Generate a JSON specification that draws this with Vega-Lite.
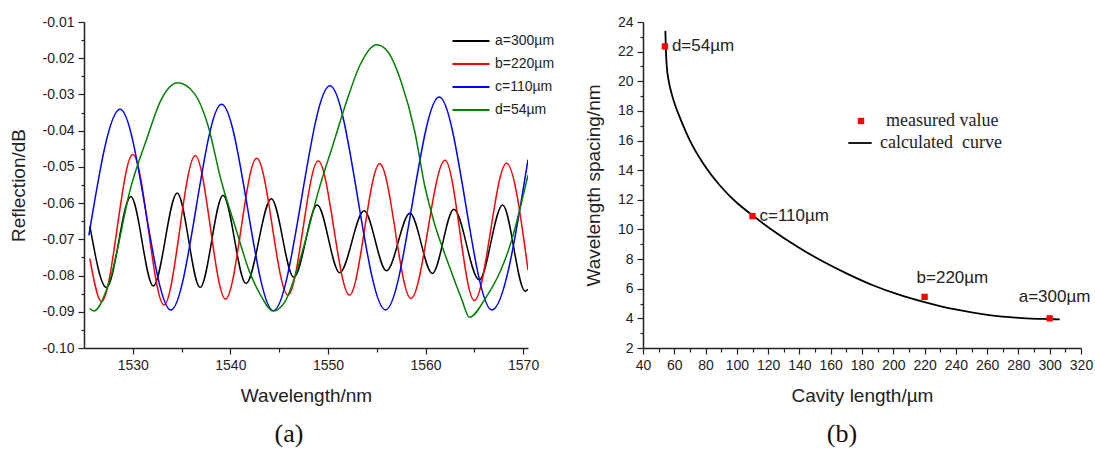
{
  "$schema": "https://vega.github.io/schema/vega-lite/v6.json",
  "background": "white",
  "padding": {"left": 9, "top": 15, "right": 5, "bottom": 5},
  "spacing": 115,
  "bounds": "flush",
  "resolve": {
    "scale": {"color": "independent", "shape": "independent"},
    "legend": {"color": "independent", "shape": "independent"}
  },
  "config": {
    "view": {"stroke": null},
    "font": "Liberation Sans",
    "axis": {
      "domainColor": "#222", "tickColor": "#222", "labelColor": "#222", "titleColor": "#222",
      "labelFont": "Liberation Sans", "titleFont": "Liberation Sans", "titleFontWeight": "normal",
      "labelFontSize": 14, "titleFontSize": 19, "grid": false, "domainWidth": 1.5, "tickWidth": 1.2,
      "labelPadding": 4
    },
    "axisX": {"titlePadding": 14},
    "axisY": {"titlePadding": 14}
  },
  "datasets": {
    "spectra": [
      {"s": "a=300µm", "wl": 1525.6, "r": -0.0663},
      {"s": "a=300µm", "wl": 1527.3, "r": -0.0833},
      {"s": "a=300µm", "wl": 1529.8, "r": -0.0582},
      {"s": "a=300µm", "wl": 1532.1, "r": -0.0829},
      {"s": "a=300µm", "wl": 1534.55, "r": -0.0572},
      {"s": "a=300µm", "wl": 1536.9, "r": -0.0833},
      {"s": "a=300µm", "wl": 1539.25, "r": -0.0578},
      {"s": "a=300µm", "wl": 1541.6, "r": -0.0822},
      {"s": "a=300µm", "wl": 1544.2, "r": -0.0588},
      {"s": "a=300µm", "wl": 1546.5, "r": -0.0805},
      {"s": "a=300µm", "wl": 1548.9, "r": -0.0605},
      {"s": "a=300µm", "wl": 1551.2, "r": -0.0792},
      {"s": "a=300µm", "wl": 1553.7, "r": -0.0621},
      {"s": "a=300µm", "wl": 1556.0, "r": -0.0787},
      {"s": "a=300µm", "wl": 1558.4, "r": -0.0628},
      {"s": "a=300µm", "wl": 1560.7, "r": -0.0794},
      {"s": "a=300µm", "wl": 1562.9, "r": -0.0617},
      {"s": "a=300µm", "wl": 1565.5, "r": -0.0812},
      {"s": "a=300µm", "wl": 1567.9, "r": -0.0605},
      {"s": "a=300µm", "wl": 1570.2, "r": -0.0843},
      {"s": "a=300µm", "wl": 1570.5, "r": -0.0838},
      {"s": "b=220µm", "wl": 1525.6, "r": -0.0753},
      {"s": "b=220µm", "wl": 1526.8, "r": -0.0872},
      {"s": "b=220µm", "wl": 1530.0, "r": -0.0466},
      {"s": "b=220µm", "wl": 1533.2, "r": -0.0881},
      {"s": "b=220µm", "wl": 1536.4, "r": -0.0469},
      {"s": "b=220µm", "wl": 1539.5, "r": -0.0865},
      {"s": "b=220µm", "wl": 1542.7, "r": -0.0476},
      {"s": "b=220µm", "wl": 1545.9, "r": -0.0854},
      {"s": "b=220µm", "wl": 1549.0, "r": -0.0484},
      {"s": "b=220µm", "wl": 1552.2, "r": -0.0854},
      {"s": "b=220µm", "wl": 1555.3, "r": -0.0491},
      {"s": "b=220µm", "wl": 1558.5, "r": -0.0863},
      {"s": "b=220µm", "wl": 1562.0, "r": -0.0482},
      {"s": "b=220µm", "wl": 1565.0, "r": -0.0869},
      {"s": "b=220µm", "wl": 1568.3, "r": -0.0490},
      {"s": "b=220µm", "wl": 1570.5, "r": -0.0785},
      {"s": "c=110µm", "wl": 1525.5, "r": -0.0689},
      {"s": "c=110µm", "wl": 1528.7, "r": -0.0341},
      {"s": "c=110µm", "wl": 1533.9, "r": -0.0895},
      {"s": "c=110µm", "wl": 1539.1, "r": -0.0327},
      {"s": "c=110µm", "wl": 1544.4, "r": -0.0897},
      {"s": "c=110µm", "wl": 1550.2, "r": -0.0276},
      {"s": "c=110µm", "wl": 1555.9, "r": -0.0895},
      {"s": "c=110µm", "wl": 1561.4, "r": -0.0307},
      {"s": "c=110µm", "wl": 1566.8, "r": -0.0895},
      {"s": "c=110µm", "wl": 1570.5, "r": -0.0480},
      {"s": "d=54µm", "wl": 1525.6, "r": -0.0891},
      {"s": "d=54µm", "wl": 1526.0, "r": -0.0898},
      {"s": "d=54µm", "wl": 1527.7, "r": -0.0808},
      {"s": "d=54µm", "wl": 1529.8, "r": -0.0556},
      {"s": "d=54µm", "wl": 1531.4, "r": -0.0425},
      {"s": "d=54µm", "wl": 1532.9, "r": -0.0315},
      {"s": "d=54µm", "wl": 1534.6, "r": -0.0268},
      {"s": "d=54µm", "wl": 1536.3, "r": -0.0297},
      {"s": "d=54µm", "wl": 1537.7, "r": -0.0385},
      {"s": "d=54µm", "wl": 1539.05, "r": -0.0537},
      {"s": "d=54µm", "wl": 1540.6, "r": -0.0674},
      {"s": "d=54µm", "wl": 1541.9, "r": -0.0785},
      {"s": "d=54µm", "wl": 1543.1, "r": -0.0854},
      {"s": "d=54µm", "wl": 1544.4, "r": -0.0898},
      {"s": "d=54µm", "wl": 1545.6, "r": -0.0872},
      {"s": "d=54µm", "wl": 1546.5, "r": -0.0812},
      {"s": "d=54µm", "wl": 1547.5, "r": -0.0722},
      {"s": "d=54µm", "wl": 1549.1, "r": -0.0560},
      {"s": "d=54µm", "wl": 1550.5, "r": -0.0440},
      {"s": "d=54µm", "wl": 1551.9, "r": -0.0320},
      {"s": "d=54µm", "wl": 1553.3, "r": -0.0218},
      {"s": "d=54µm", "wl": 1555.0, "r": -0.0163},
      {"s": "d=54µm", "wl": 1556.1, "r": -0.0181},
      {"s": "d=54µm", "wl": 1557.5, "r": -0.0265},
      {"s": "d=54µm", "wl": 1558.9, "r": -0.0403},
      {"s": "d=54µm", "wl": 1559.9, "r": -0.0550},
      {"s": "d=54µm", "wl": 1560.9, "r": -0.0655},
      {"s": "d=54µm", "wl": 1562.35, "r": -0.0768},
      {"s": "d=54µm", "wl": 1563.7, "r": -0.0865},
      {"s": "d=54µm", "wl": 1564.5, "r": -0.0915},
      {"s": "d=54µm", "wl": 1566.2, "r": -0.0860},
      {"s": "d=54µm", "wl": 1567.7, "r": -0.0786},
      {"s": "d=54µm", "wl": 1568.6, "r": -0.0722},
      {"s": "d=54µm", "wl": 1570.5, "r": -0.0523}
    ],
    "curve": [
      {"k": "calculated  curve", "L": 54.3, "sp": 23.4},
      {"k": "calculated  curve", "L": 54.6, "sp": 22.2},
      {"k": "calculated  curve", "L": 55.2, "sp": 21.0},
      {"k": "calculated  curve", "L": 56.5, "sp": 20.0},
      {"k": "calculated  curve", "L": 58.2, "sp": 19.2},
      {"k": "calculated  curve", "L": 60.5, "sp": 18.4},
      {"k": "calculated  curve", "L": 63.6, "sp": 17.55},
      {"k": "calculated  curve", "L": 70.0, "sp": 16.0},
      {"k": "calculated  curve", "L": 78.5, "sp": 14.45},
      {"k": "calculated  curve", "L": 89.3, "sp": 12.95},
      {"k": "calculated  curve", "L": 100.0, "sp": 11.8},
      {"k": "calculated  curve", "L": 110.7, "sp": 10.9},
      {"k": "calculated  curve", "L": 121.4, "sp": 10.05},
      {"k": "calculated  curve", "L": 138.5, "sp": 8.85},
      {"k": "calculated  curve", "L": 155.7, "sp": 7.8},
      {"k": "calculated  curve", "L": 171.7, "sp": 6.95},
      {"k": "calculated  curve", "L": 186.5, "sp": 6.25},
      {"k": "calculated  curve", "L": 203.6, "sp": 5.6},
      {"k": "calculated  curve", "L": 220.0, "sp": 5.1},
      {"k": "calculated  curve", "L": 239.8, "sp": 4.6},
      {"k": "calculated  curve", "L": 261.2, "sp": 4.22},
      {"k": "calculated  curve", "L": 282.5, "sp": 4.02},
      {"k": "calculated  curve", "L": 300.0, "sp": 3.95},
      {"k": "calculated  curve", "L": 306.4, "sp": 3.93}
    ],
    "pts": [
      {"m": "measured value", "L": 54, "sp": 22.35, "lab": "d=54µm"},
      {"m": "measured value", "L": 110, "sp": 10.9, "lab": "c=110µm"},
      {"m": "measured value", "L": 220, "sp": 5.45, "lab": "b=220µm"},
      {"m": "measured value", "L": 300, "sp": 4.0, "lab": "a=300µm"}
    ]
  },
  "hconcat": [
    {
      "width": 444,
      "height": 326,
      "title": {"text": "(a)", "orient": "bottom", "frame": "group", "dx": -17, "font": "Liberation Serif", "fontSize": 26, "fontWeight": "normal", "color": "#111", "offset": 16},
      "data": {"name": "spectra"},
      "mark": {"type": "line", "interpolate": "monotone", "strokeWidth": 1.5, "clip": true},
      "encoding": {
        "x": {
          "field": "wl", "type": "quantitative",
          "scale": {"domain": [1525, 1570.5], "nice": false, "zero": false},
          "axis": {
            "title": "Wavelength/nm",
            "values": [1530, 1535, 1540, 1545, 1550, 1555, 1560, 1565, 1570],
            "labelExpr": "datum.value % 10 == 0 ? format(datum.value, 'd') : ''",
            "tickSize": {"condition": {"test": "datum.value % 10 == 0", "value": 6}, "value": 4},
            "labelFlush": false
          }
        },
        "y": {
          "field": "r", "type": "quantitative",
          "scale": {"domain": [-0.1, -0.01], "nice": false, "zero": false},
          "axis": {
            "title": "Reflection/dB",
            "values": [-0.1, -0.095, -0.09, -0.085, -0.08, -0.075, -0.07, -0.065, -0.06, -0.055, -0.05, -0.045, -0.04, -0.035, -0.03, -0.025, -0.02, -0.015, -0.01],
            "labelExpr": "round(abs(datum.value) * 1000) % 10 == 0 ? '-' + format(abs(datum.value), '.2f') : ''",
            "tickSize": {"condition": {"test": "round(abs(datum.value) * 1000) % 10 == 0", "value": 6}, "value": 3},
            "labelFlush": false
          }
        },
        "color": {
          "field": "s", "type": "nominal",
          "scale": {"domain": ["a=300µm", "b=220µm", "c=110µm", "d=54µm"], "range": ["#000000", "#ff0000", "#0000ff", "#008000"]},
          "legend": {
            "orient": "none", "legendX": 376, "legendY": 8, "title": null,
            "symbolType": "M-1.85,0H1.85", "symbolSize": 400, "symbolStrokeWidth": 1.8,
            "labelFontSize": 14, "labelOffset": 13, "rowPadding": 5, "padding": 0,
            "labelColor": "#222", "labelFont": "Liberation Sans"
          }
        }
      }
    },
    {
      "width": 438,
      "height": 326,
      "title": {"text": "(b)", "orient": "bottom", "frame": "group", "dx": -20, "font": "Liberation Serif", "fontSize": 26, "fontWeight": "normal", "color": "#111", "offset": 16},
      "encoding": {
        "x": {
          "field": "L", "type": "quantitative",
          "scale": {"domain": [40, 320], "nice": false, "zero": false},
          "axis": {
            "title": "Cavity length/µm",
            "values": [40, 50, 60, 70, 80, 90, 100, 110, 120, 130, 140, 150, 160, 170, 180, 190, 200, 210, 220, 230, 240, 250, 260, 270, 280, 290, 300, 310, 320],
            "labelExpr": "datum.value % 20 == 0 ? format(datum.value, 'd') : ''",
            "tickSize": {"condition": {"test": "datum.value % 20 == 0", "value": 6}, "value": 4},
            "labelFlush": false
          }
        },
        "y": {
          "field": "sp", "type": "quantitative",
          "scale": {"domain": [2, 24], "nice": false, "zero": false},
          "axis": {
            "title": "Wavelength spacing/nm",
            "values": [2, 3, 4, 5, 6, 7, 8, 9, 10, 11, 12, 13, 14, 15, 16, 17, 18, 19, 20, 21, 22, 23, 24],
            "labelExpr": "datum.value % 2 == 0 ? format(datum.value, 'd') : ''",
            "tickSize": {"condition": {"test": "datum.value % 2 == 0", "value": 6}, "value": 3},
            "labelFlush": false
          }
        }
      },
      "layer": [
        {
          "data": {"name": "curve"},
          "mark": {"type": "line", "interpolate": "monotone", "strokeWidth": 1.8, "color": "#000000"},
          "encoding": {
            "color": {
              "field": "k", "type": "nominal",
              "scale": {"range": ["#000000"]},
              "legend": {
                "orient": "none", "legendX": 204, "legendY": 108, "title": null,
                "symbolType": "stroke", "symbolSize": 548, "symbolStrokeWidth": 1.8,
                "labelFontSize": 18, "labelOffset": 7, "padding": 0,
                "labelColor": "#222", "labelFont": "Liberation Serif",
                "labelExpr": "'calculated\u00a0 curve'"
              }
            }
          }
        },
        {
          "data": {"name": "pts"},
          "mark": {"type": "point", "filled": true, "color": "#ff0000", "opacity": 1, "size": 40},
          "encoding": {
            "shape": {
              "field": "m", "type": "nominal",
              "scale": {"range": ["square"]},
              "legend": {
                "orient": "none", "legendX": 209, "legendY": 90, "title": null,
                "symbolSize": 40, "symbolFillColor": "#ff0000", "symbolStrokeWidth": 0, "symbolOpacity": 1,
                "labelFontSize": 18, "labelOffset": 16, "padding": 0,
                "labelColor": "#222", "labelFont": "Liberation Serif"
              }
            }
          }
        },
        {
          "data": {"name": "pts"},
          "transform": [{"filter": "datum.L < 150"}],
          "mark": {"type": "text", "align": "left", "baseline": "middle", "dx": 7, "font": "Liberation Sans", "fontSize": 17, "color": "#222"},
          "encoding": {"text": {"field": "lab"}}
        },
        {
          "data": {"name": "pts"},
          "transform": [{"filter": "datum.L == 220"}],
          "mark": {"type": "text", "align": "left", "baseline": "middle", "dx": -8, "dy": -19, "font": "Liberation Sans", "fontSize": 17, "color": "#222"},
          "encoding": {"text": {"field": "lab"}}
        },
        {
          "data": {"name": "pts"},
          "transform": [{"filter": "datum.L == 300"}],
          "mark": {"type": "text", "align": "left", "baseline": "middle", "dx": -31, "dy": -21, "font": "Liberation Sans", "fontSize": 17, "color": "#222"},
          "encoding": {"text": {"field": "lab"}}
        }
      ]
    }
  ]
}
